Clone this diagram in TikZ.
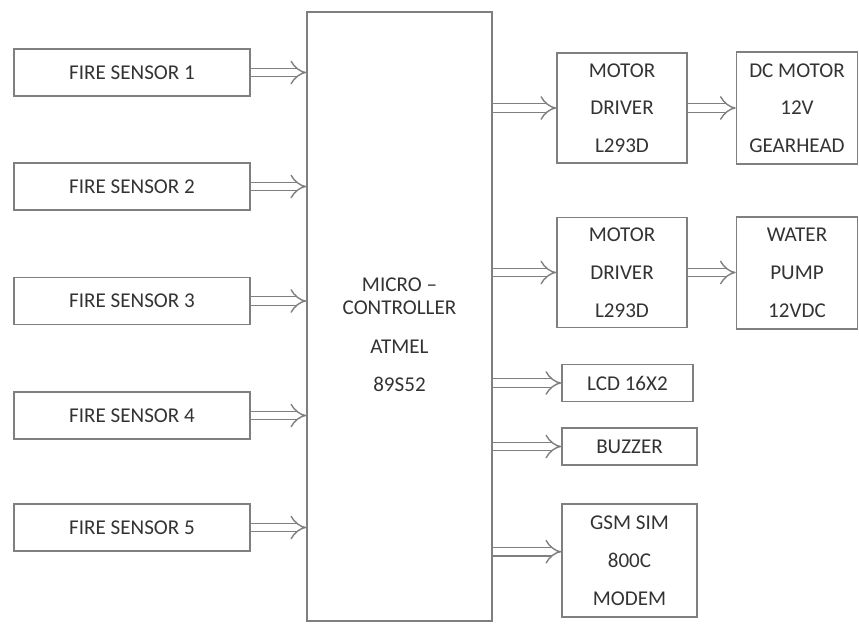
\documentclass[tikz,border=0pt]{standalone}
\usepackage{fontspec}
\setmainfont{Carlito}
\usetikzlibrary{arrows.meta, positioning}
\definecolor{linegray}{HTML}{7F7F7F}
\definecolor{textgray}{HTML}{333333}

\begin{document}
\begin{tikzpicture}[
    x=0.02cm, y=-0.02cm,
    every node/.style={font=\fontsize{12}{13}\selectfont, text=textgray},
    block/.style={rectangle, draw=linegray, line width=0.9pt, align=center, inner sep=0pt},
    sensor/.style={block, minimum width=4.72cm, minimum height=0.94cm},
    driver/.style={block, minimum width=2.6cm, minimum height=2.2cm, font=\fontsize{12}{21.5}\selectfont},
    device/.style={block, minimum width=2.42cm, minimum height=2.24cm, font=\fontsize{12}{21.5}\selectfont},
    smallbox/.style={block, minimum width=2.7cm, minimum height=0.74cm},
    hollow/.style={draw=linegray, line width=0.8pt, double=white, double distance=4pt, -{Implies[scale=1.5]}}
]
\useasboundingbox (0,0) rectangle (859,623);

% Controller
\node[block, minimum width=3.7cm, minimum height=12.18cm] (mcu) at (399.5,316.5) {};
\node[align=center] (mcutext) at (399.5,335) {MICRO --\\CONTROLLER\\[9pt]ATMEL\\[9pt]89S52};

% Inputs
\foreach \i/\y in {1/72.5, 2/186.5, 3/301, 4/415.5, 5/527.5}
    \node[sensor] (fs\i) at (132,\y) {FIRE SENSOR \i};

% Outputs
\node[driver] (drv1) at (622,108) {MOTOR\\DRIVER\\L293D};
\node[device] (motor) at (797,108) {DC MOTOR\\12V\\GEARHEAD};
\node[driver] (drv2) at (622,272.5) {MOTOR\\DRIVER\\L293D};
\node[device] (pump) at (797,273) {WATER\\PUMP\\12VDC};
\node[smallbox, minimum width=2.62cm] (lcd) at (627.5,383) {LCD 16X2};
\node[smallbox] (buzzer) at (629.5,446.5) {BUZZER};
\node[smallbox, minimum height=2.26cm, font=\fontsize{12}{21.5}\selectfont] (gsm) at (629.5,560.5) {GSM SIM\\800C\\MODEM};

% Arrows
\foreach \i in {1,...,5}
    \draw[hollow] (fs\i.east) -- (fs\i.east -| mcu.west);
\draw[hollow] (drv1.west -| mcu.east) -- (drv1.west);
\draw[hollow] (drv1.east) -- (drv1.east -| motor.west);
\draw[hollow] (drv2.west -| mcu.east) -- (drv2.west);
\draw[hollow] (drv2.east) -- (drv2.east -| pump.west);
\draw[hollow] (lcd.west -| mcu.east) -- (lcd.west);
\draw[hollow] (buzzer.west -| mcu.east) -- (buzzer.west);
\draw[hollow] ([yshift=5pt]gsm.west -| mcu.east) -- ([yshift=5pt]gsm.west);

\end{tikzpicture}
\end{document}
